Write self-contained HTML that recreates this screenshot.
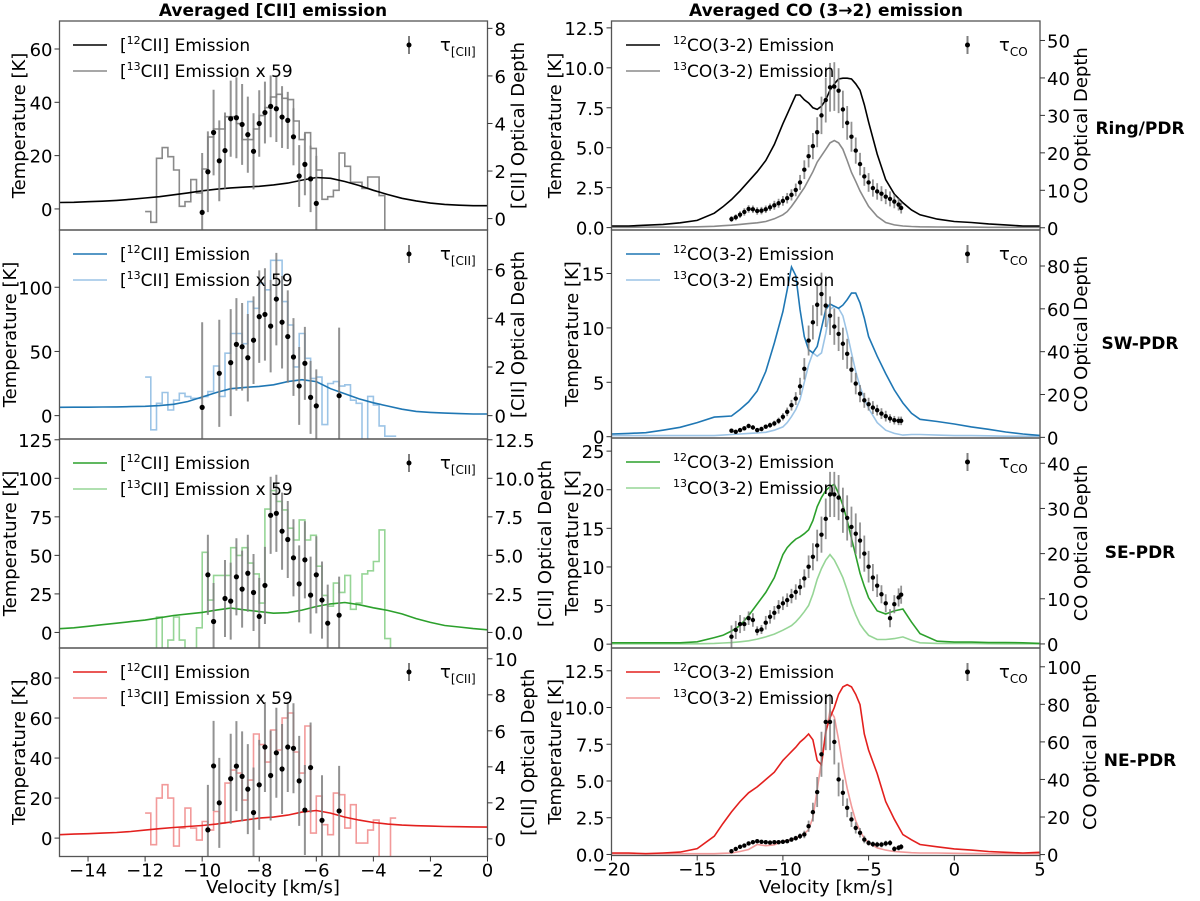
<!DOCTYPE html>
<html><head><meta charset="utf-8">
<style>
html,body{margin:0;padding:0;background:#fff;}
svg{display:block;font-family:"DejaVu Sans","Liberation Sans",sans-serif;}
</style></head>
<body>
<svg id="fig" width="1200" height="901" viewBox="0 0 1200 901" xmlns="http://www.w3.org/2000/svg">
<text x="273" y="16" font-size="17" font-weight="bold" text-anchor="middle">Averaged [CII] emission</text>
<text x="826" y="16" font-size="17" font-weight="bold" text-anchor="middle">Averaged CO (3→2) emission</text>
<text x="1140" y="134" font-size="17" font-weight="bold" text-anchor="middle">Ring/PDR</text>
<text x="1140" y="349" font-size="17" font-weight="bold" text-anchor="middle">SW-PDR</text>
<text x="1140" y="558" font-size="17" font-weight="bold" text-anchor="middle">SE-PDR</text>
<text x="1140" y="766" font-size="17" font-weight="bold" text-anchor="middle">NE-PDR</text>
<text x="273" y="893" font-size="18" text-anchor="middle">Velocity [km/s]</text>
<text x="826" y="893" font-size="18" text-anchor="middle">Velocity [km/s]</text>
</svg>
<script>
// ---------- DATA ----------
const ciiVel = [-15,-14.5,-14,-13.5,-13,-12.5,-12,-11.5,-11,-10.5,-10,-9.5,-9,-8.5,-8,-7.5,-7,-6.5,-6,-5.5,-5,-4.5,-4,-3.5,-3,-2.5,-2,-1.5,-1,-0.5,0];
const ringC12 = [2.4,2.5,2.7,2.9,3.2,3.6,4.1,4.6,5.3,6.0,6.8,7.4,7.9,8.2,8.5,9.0,9.7,10.8,11.8,11.5,10.3,8.8,7.0,5.4,4.0,3.0,2.2,1.7,1.4,1.2,1.2];
const swC12 = [6.5,6.6,6.6,6.7,6.8,7.0,7.3,7.8,8.8,11,14.5,18,21,22,22.8,24,26.5,28,26.5,21,17,13,10,7.5,5,3.3,2.5,2,1.6,1.3,1.3];
const seC12 = [2.4,3,4,5,6,7,8,9.5,11,12,13,14.5,15.8,14.6,13.5,12.5,12.8,14.5,16.8,18.5,19.4,18,16,14.3,12,9,6.5,4.5,3.5,2.5,1.7];
const neC12 = [1.7,2,2.2,2.5,2.8,3.3,4,4.7,5.3,5.8,6.3,7,8,9,10,10.5,11.5,13,13.8,12.5,10.5,9,7.8,7,6.5,6.2,6,5.8,5.7,5.6,5.5];
const c13Start = -12.0;
const c13Width = 0.2;
const ringC13 = [-1,-5,19,23,19.6,14.6,1,2.7,11,6,15,27,30,30,34.6,34.6,32,26,26,30,35,38,42,43,41.5,41,33,26,28.6,22.7,14.6,3.6,4.6,7,21,16,10,10,7.7,12,12,5,-20];
const swC13 = [30,-11,9.6,18,4.4,12,17.4,14.8,13.5,13.5,14.8,18.7,38.7,15,48.6,64,64,56,88.8,83.6,103,98,121,121,88.8,70.6,38,64,44.7,29,30,-7,25,26.5,23,24,12,9.6,-19,15,8.3,-8,-16,-16];
const seC13 = [-20,-20,10,-20,-5,10,-5,-20,-20,3,52,21,37,37,37,55,50,55,45,38,19,80,92,85,79.5,67.6,60,73,60,63,43,24,17,32,26,37,15,19,38,40,46,66.5,-4,-20];
const neC13 = [12.5,-3.3,20,26.7,20,-4,5,15,5,-1,8.3,4,13.3,7.5,27.5,34,32.5,19,29,52,46.7,38,54,44,60,62.5,43,32.5,56,2.5,21,6.7,1.7,22.5,21.7,5,16.7,-2.5,-2.5,4,9,-9.5,-9.5,10];
const ringTauVel = [-10,-9.8,-9.6,-9.4,-9.2,-9,-8.8,-8.6,-8.4,-8.2,-8,-7.8,-7.6,-7.4,-7.2,-7,-6.8,-6.6,-6.4,-6.2,-6];
const ringTau = [0.26,1.97,3.62,2.43,2.86,4.2,4.24,3.96,3.53,2.83,4.0,4.46,4.72,4.62,4.27,4.13,3.44,1.79,2.28,1.67,0.64];
const ringTauErr = [2.5,1.7,1.8,1.7,1.6,1.6,1.7,1.7,1.6,1.6,1.4,1.3,1.3,1.4,1.3,1.2,1.2,1.3,1.3,1.4,2];
const swTauVel = [-10,-9.4,-9,-8.8,-8.6,-8.4,-8.2,-8,-7.8,-7.6,-7.4,-7.2,-7,-6.8,-6.6,-6.4,-6.2,-6,-5.2];
const swTau = [0.34,1.74,2.18,2.93,2.83,2.38,3.1,4.07,4.16,3.68,4.79,3.84,3.25,2.41,1.22,2.15,0.75,0.40,0.82];
const swTauErr = [3.5,2.2,2.2,1.9,1.8,1.8,1.8,1.9,1.9,1.9,1.9,1.9,1.9,1.6,1.6,1.5,1.5,1.5,2.8];
const seTauVel = [-9.8,-9.6,-9.2,-9,-8.8,-8.6,-8.4,-8.2,-8,-7.8,-7.6,-7.4,-7.2,-7,-6.8,-6.6,-6.4,-6.2,-6,-5.8,-5.6,-5.2];
const seTau = [3.74,0.71,2.2,2.03,3.61,2.81,3.84,2.59,1.04,3.05,7.6,7.73,6.57,6.03,4.84,3.15,4.71,2.42,3.74,2.1,0.6,1.12];
const seTauErr = [2.6,2.5,2.5,2.5,2.5,2.5,2.5,2.5,2.5,2.5,2.5,2.5,2.5,2.5,2.5,2.5,2.5,2.5,2.5,2.5,2.5,2.5];
const neTauVel = [-9.8,-9.6,-9.4,-9,-8.8,-8.6,-8.4,-8.2,-8,-7.8,-7.6,-7.4,-7.2,-7,-6.8,-6.6,-6.4,-6.2,-5.8,-5.2];
const neTau = [0.5,4.05,2.0,3.34,4.04,3.47,2.76,1.46,3.0,5.1,3.52,4.78,3.88,5.1,5.03,3.22,1.6,3.96,1.03,1.55];
const neTauErr = [2.5,2.5,2.5,2.5,2.5,2.5,2.5,2.5,2.5,2.5,2.5,2.5,2.5,2.5,2.5,2.5,2.5,2.5,2.5,2.5];

const coVel = [-20,-19,-18,-17,-16,-15,-14,-13.5,-13,-12.5,-12,-11.5,-11,-10.5,-10,-9.75,-9.5,-9.25,-9,-8.75,-8.5,-8.25,-8,-7.75,-7.5,-7.25,-7,-6.75,-6.5,-6.25,-6,-5.75,-5.5,-5.25,-5,-4.5,-4,-3.5,-3,-2.5,-2,-1,0,1,2,3,4,5];
const ringCO12 = [0.1,0.1,0.15,0.2,0.3,0.45,0.9,1.3,1.76,2.3,2.9,3.5,4.2,5.2,6.5,7.1,7.7,8.3,8.3,8.0,7.8,7.5,7.4,7.6,8.0,8.6,9.0,9.3,9.35,9.35,9.3,9.0,8.6,7.7,6.6,4.6,3.0,2.1,1.55,1.1,0.8,0.53,0.38,0.32,0.23,0.17,0.1,0.1];
const ringCO13 = [0.02,0.02,0.03,0.03,0.04,0.05,0.08,0.12,0.15,0.2,0.25,0.3,0.38,0.55,0.8,1.0,1.33,1.7,2.1,2.5,3.0,3.5,4.1,4.5,4.9,5.3,5.45,5.3,4.9,4.2,3.45,2.9,2.3,1.8,1.33,0.7,0.32,0.17,0.1,0.07,0.05,0.04,0.03,0.03,0.02,0.02,0.02,0.02];
const swCO12 = [0.25,0.3,0.37,0.6,0.86,1.3,1.8,1.85,1.9,2.5,3.2,4.2,6.0,8.6,11.5,13.5,15.6,14.8,11.7,9.2,8.0,7.7,8.3,10,11.7,12.2,12.0,11.8,12.1,12.6,13.2,13.2,12.3,10.9,9.2,7.4,5.8,4.3,3.1,2.15,1.6,1.4,1.17,0.9,0.68,0.43,0.25,0.12];
const swCO13 = [0.1,0.1,0.1,0.1,0.1,0.1,0.1,0.15,0.2,0.25,0.3,0.35,0.4,0.6,0.9,1.3,1.85,2.5,3.4,5.0,6.6,7.7,7.4,7.7,9.5,11.7,12.0,11.8,11.1,9.5,7.7,6.0,4.6,3.5,2.6,1.3,0.6,0.3,0.15,0.2,0.2,0.15,0.1,0.1,0.08,0.05,0.05,0.05];
const seCO12 = [0.17,0.17,0.17,0.17,0.17,0.3,0.85,1.15,1.7,2.4,3.7,5.2,6.7,8.6,11.6,12.5,13.1,13.6,13.9,14.3,14.8,16,17.8,19,19.9,20.4,20.7,19.5,18,16,13.7,11.5,9.2,7.5,6.0,4.3,3.9,4.3,4.55,2.85,1.36,0.38,0.26,0.26,0.2,0.2,0.17,0.1];
const seCO13 = [0.05,0.05,0.05,0.05,0.05,0.05,0.1,0.15,0.2,0.3,0.43,0.65,0.94,1.3,1.8,2.1,2.4,2.9,3.5,4.2,5.0,6.5,8.4,9.8,10.9,11.6,10.9,9.8,8.6,7.0,5.2,3.8,2.6,1.8,1.15,0.6,0.6,0.72,0.94,0.5,0.17,0.1,0.08,0.08,0.06,0.05,0.05,0.05];
const neCO12 = [0.1,0.1,0.05,0.1,0.16,0.4,1.24,2.1,2.9,3.6,4.2,4.6,5.1,5.6,6.4,6.7,7.0,7.3,7.65,7.9,8.2,7.8,6.4,6.1,8.4,9.3,10.0,10.9,11.4,11.55,11.4,10.9,10.2,8.2,7.1,5.5,3.6,2.4,1.35,1.0,0.68,0.52,0.38,0.3,0.2,0.15,0.1,0.15];
const neCO13 = [0.05,0.05,0.05,0.05,0.05,0.05,0.05,0.08,0.1,0.2,0.34,0.68,0.6,0.65,0.9,0.95,1.0,1.1,1.24,1.4,1.7,2.5,4.4,6.4,8.2,9.8,9.35,7.8,6.0,4.5,3.3,2.3,1.6,1.1,0.8,0.45,0.3,0.2,0.16,0.12,0.1,0.1,0.08,0.06,0.05,0.05,0.05,0.05];
const coTauVel = [-13,-12.75,-12.5,-12.25,-12,-11.75,-11.5,-11.25,-11,-10.75,-10.5,-10.25,-10,-9.75,-9.5,-9.25,-9,-8.75,-8.5,-8.25,-8,-7.75,-7.5,-7.25,-7,-6.75,-6.5,-6.25,-6,-5.75,-5.5,-5.25,-5,-4.75,-4.5,-4.25,-4,-3.75,-3.5,-3.25,-3.1];
const ringCOTau = [2.33,2.78,3.49,4.21,5.02,4.93,4.48,4.57,4.93,5.47,6.0,6.54,7.17,7.89,8.78,10.1,12.1,15.5,19.1,21.8,25.5,30.0,34.1,37.5,37.7,36.6,31.6,28.0,24.3,20.6,17.0,13.7,12.1,10.6,9.7,9.1,8.3,7.7,7.0,6.2,5.3];
const ringCOTauErr = [0.8,0.8,0.9,1,1,1,1,1,1,1,1.2,1.2,1.3,1.4,1.5,1.7,2,2.5,3,3.5,4,5,6,6.5,6.5,6,5,4.5,4,3.5,3,2.5,2.5,2.3,2.2,2,2,2,1.8,1.6,1.5];
const swCOTau = [3.1,2.6,3.4,4.2,5.3,4.6,3.4,3.9,5.0,5.7,6.5,7.7,9.6,11.9,15.0,18.1,23.8,32.0,45.2,53.7,61.9,66.9,61.5,56.8,51.7,48.3,43.7,39.0,31.6,25.1,20.4,17.3,15.5,13.9,12.7,11.1,9.9,8.8,8.0,7.7,7.7];
const swCOTauErr = [1,1,1,1,1,1,1,1,1,1.2,1.3,1.5,1.7,2,2.5,3,4,5,7,8,10,10,10,9,8.5,8,7.5,7,6,5,4,3.5,3,3,2.5,2.5,2.5,2,2,2,2];
const seCOTau = [1.6,3.1,4.4,4.4,5.7,5.3,2.9,3.2,4.7,6.0,6.9,8.2,9.0,9.7,10.6,11.5,12.6,14.5,17.1,19.3,21.8,24.2,27.7,33.1,33.1,32.4,29.6,27.9,25.9,24.4,22.9,20.0,17.1,14.7,12.9,11.0,9.0,5.7,8.8,10.3,10.9];
const seCOTauErr = [2.5,2,2,1.5,1.5,1.5,1,1,1.5,1.5,1.5,1.5,1.5,1.5,1.6,1.7,1.8,2,2.5,3,3.5,4,4.5,5,5,5,5,5,4.5,4.5,4,4,3.5,3,2.5,2,2,2,2,2,2];
const neCOTau = [1.8,3.0,4.1,4.8,5.9,6.6,7.1,6.8,6.6,6.4,6.6,6.6,6.8,7.1,8.0,8.7,9.8,10.7,15.1,22.6,33.3,53.4,70.6,70.6,60.0,40.0,32.9,24.9,18.7,14.2,11.6,8.0,6.2,5.5,5.3,5.3,5.9,6.2,3.0,3.6,4.1];
const neCOTauErr = [1,1,1,1,1,1,1,1,1,1,1,1,1,1,1.2,1.3,1.5,2,3,5,8,12,15,15,12,9,7,5,4,3,2.5,2,1.5,1.5,1.5,1.5,1.5,1.5,1.5,1.5,1.5];

const ciiXTicks = [-14,-12,-10,-8,-6,-4,-2,0];
const coXTicks = [-20,-15,-10,-5,0,5];

// ---------- DRAWING ----------
const NS = 'http://www.w3.org/2000/svg';
const svg = document.getElementById('fig');
const TICK_FS = 18;
function mk(tag, parent, attrs) {
  const e = document.createElementNS(NS, tag);
  for (const k in attrs) e.setAttribute(k, attrs[k]);
  parent.appendChild(e);
  return e;
}
function fmt(v, dec) { const s = v.toFixed(dec); return s.replace('-', '\u2212'); }

const ciiColors = [['#000000','#8a8a8a'],['#1f77b4','#9cc4e6'],['#2ca02c','#96d596'],['#e3201e','#f29a9a']];
const rowNames = ['ring','sw','se','ne'];

const leftPanels = [
  {top:21,bot:230,yl:[-7.9,70.5],ylt:[0,20,40,60],yld:0,yr:[-0.48,8.31],yrt:[0,2,4,6,8],yrd:0,tlx:19,rlx:518,c12:ringC12,c13:ringC13,tv:ringTauVel,t:ringTau,te:ringTauErr},
  {top:230,bot:439,yl:[-18.2,144.6],ylt:[0,50,100],yld:0,yr:[-0.96,7.63],yrt:[0,2,4,6],yrd:0,tlx:10,rlx:518,c12:swC12,c13:swC13,tv:swTauVel,t:swTau,te:swTauErr},
  {top:439,bot:648,yl:[-10.1,125.5],ylt:[0,25,50,75,100,125],yld:0,yr:[-1.01,12.55],yrt:[0,2.5,5,7.5,10,12.5],yrd:1,tlx:10,rlx:545,c12:seC12,c13:seC13,tv:seTauVel,t:seTau,te:seTauErr},
  {top:648,bot:856.5,yl:[-9.2,95],ylt:[0,20,40,60,80],yld:0,yr:[-0.98,10.6],yrt:[0,2,4,6,8,10],yrd:0,tlx:19,rlx:528,c12:neC12,c13:neC13,tv:neTauVel,t:neTau,te:neTauErr}
];
const rightPanels = [
  {top:21,bot:230,yl:[-0.15,12.93],ylt:[0,2.5,5,7.5,10,12.5],yld:1,yr:[-0.6,55.2],yrt:[0,10,20,30,40,50],yrd:0,tlx:555,rlx:1081,c12:ringCO12,c13:ringCO13,t:ringCOTau,te:ringCOTauErr},
  {top:230,bot:438,yl:[-0.12,19.0],ylt:[0,5,10,15],yld:0,yr:[-0.3,96.8],yrt:[0,20,40,60,80],yrd:0,tlx:572,rlx:1081,c12:swCO12,c13:swCO13,t:swCOTau,te:swCOTauErr},
  {top:438,bot:648,yl:[-0.5,26.7],ylt:[0,5,10,15,20,25],yld:0,yr:[-0.9,45.6],yrt:[0,10,20,30,40],yrd:0,tlx:572,rlx:1081,c12:seCO12,c13:seCO13,t:seCOTau,te:seCOTauErr},
  {top:648,bot:855.5,yl:[-0.07,14.05],ylt:[0,2.5,5,7.5,10,12.5],yld:1,yr:[-0.5,110],yrt:[0,20,40,60,80,100],yrd:0,tlx:555,rlx:1090,c12:neCO12,c13:neCO13,t:neCOTau,te:neCOTauErr}
];

function drawPanel(p, i, col) {
  const isCii = col === 'cii';
  const x0 = isCii ? 59.5 : 611.5, x1 = isCii ? 487.5 : 1040;
  const vmin = isCii ? -15 : -20, vmax = isCii ? 0 : 5;
  const sx = v => x0 + (v - vmin) / (vmax - vmin) * (x1 - x0);
  const syL = t => p.bot - (t - p.yl[0]) / (p.yl[1] - p.yl[0]) * (p.bot - p.top);
  const syR = t => p.bot - (t - p.yr[0]) / (p.yr[1] - p.yr[0]) * (p.bot - p.top);
  const g = mk('g', svg, {});
  
  
  const cid = 'clip-' + col + i;
  const cp = mk('clipPath', g, {id: cid});
  mk('rect', cp, {x:x0, y:p.top, width:x1-x0, height:p.bot-p.top});
  const plot = mk('g', g, {'clip-path':'url(#' + cid + ')'});
  const [c1, c2] = ciiColors[i];

  let d = '';
  if (isCii) {
    for (let k = 0; k < p.c13.length; k++) {
      const xa = sx(c13Start + k * c13Width), xb = sx(c13Start + (k + 1) * c13Width), y = syL(p.c13[k]);
      d += (k === 0 ? 'M' : 'L') + xa.toFixed(1) + ',' + y.toFixed(1) + 'H' + xb.toFixed(1);
    }
  } else {
    coVel.forEach((v, k) => { d += (k ? 'L' : 'M') + sx(v).toFixed(1) + ',' + syL(p.c13[k]).toFixed(1); });
  }
  const l13 = mk('path', plot, {d:d, fill:'none', stroke:c2, 'stroke-width':1.6});
  
  

  d = '';
  const vel = isCii ? ciiVel : coVel;
  vel.forEach((v, k) => { d += (k ? 'L' : 'M') + sx(v).toFixed(1) + ',' + syL(p.c12[k]).toFixed(1); });
  const l12 = mk('path', plot, {d:d, fill:'none', stroke:c1, 'stroke-width':1.6});
  
  

  const tv = isCii ? p.tv : coTauVel;
  tv.forEach((v, k) => {
    const x = sx(v);
    const eb = mk('line', plot, {x1:x, x2:x, y1:syR(p.t[k] - p.te[k]), y2:syR(p.t[k] + p.te[k]), stroke:'#7f7f7f', 'stroke-width':isCii ? 2 : 1.8, 'stroke-opacity':0.85});
    
    
  });
  tv.forEach((v, k) => {
    const pt = mk('circle', plot, {cx:sx(v), cy:syR(p.t[k]), r:isCii ? 2.6 : 2.2, fill:'#000'});
    
    
  });

  const fr = mk('rect', g, {x:x0, y:p.top, width:x1-x0, height:p.bot-p.top, fill:'none', stroke:'#555', 'stroke-width':1.3});
  
  

  p.ylt.forEach(t => {
    const y = syL(t);
    mk('line', g, {x1:x0-5, x2:x0, y1:y, y2:y, stroke:'#333', 'stroke-width':1});
    const tl = mk('text', g, {x:x0-7, y:y+7, 'font-size':TICK_FS, 'text-anchor':'end'});
    tl.textContent = fmt(t, p.yld);
    
    
  });
  p.yrt.forEach(t => {
    const y = syR(t);
    mk('line', g, {x1:x1, x2:x1+5, y1:y, y2:y, stroke:'#333', 'stroke-width':1});
    const tl = mk('text', g, {x:x1+7, y:y+7, 'font-size':TICK_FS});
    tl.textContent = fmt(t, p.yrd);
    
    
  });
  const cy = (p.top + p.bot) / 2;
  const yt = mk('text', g, {x:p.tlx, y:cy, 'font-size':18, 'text-anchor':'middle', transform:'rotate(-90 ' + p.tlx + ' ' + cy + ')', dy:6});
  yt.textContent = 'Temperature [K]';
  
  
  const rt = mk('text', g, {x:p.rlx, y:cy, 'font-size':18, 'text-anchor':'middle', transform:'rotate(-90 ' + p.rlx + ' ' + cy + ')', dy:6});
  rt.textContent = isCii ? '[CII] Optical Depth' : 'CO Optical Depth';
  
  

  if (i === 3) {
    (isCii ? ciiXTicks : coXTicks).forEach(v => {
      const x = sx(v);
      mk('line', g, {x1:x, x2:x, y1:p.bot, y2:p.bot+5, stroke:'#333', 'stroke-width':1});
      const xl = mk('text', g, {x:x, y:p.bot+20, 'font-size':TICK_FS, 'text-anchor':'middle'});
      xl.textContent = fmt(v, 0);
      
      
    });
  }

  const lx0 = isCii ? 73 : 626, lx1 = isCii ? 107 : 660, tx = isCii ? 120 : 673;
  const ly1 = p.top + 24, ly2 = p.top + 50;
  const lg = mk('g', g, {});
  
  
  mk('line', lg, {x1:lx0, x2:lx1, y1:ly1, y2:ly1, stroke:c1, 'stroke-width':1.6});
  mk('line', lg, {x1:lx0, x2:lx1, y1:ly2, y2:ly2, stroke:c2, 'stroke-width':1.6});
  const t1 = mk('text', lg, {x:tx, y:ly1+6, 'font-size':17});
  
  
  const t2 = mk('text', lg, {x:tx, y:ly2+6, 'font-size':17});
  
  
  if (isCii) {
    t1.innerHTML = '[<tspan font-size="11" dy="-7">12</tspan><tspan dy="7">CII] Emission</tspan>';
    t2.innerHTML = '[<tspan font-size="11" dy="-7">13</tspan><tspan dy="7">CII] Emission x 59</tspan>';
  } else {
    t1.innerHTML = '<tspan font-size="11" dy="-7">12</tspan><tspan dy="7">CO(3-2) Emission</tspan>';
    t2.innerHTML = '<tspan font-size="11" dy="-7">13</tspan><tspan dy="7">CO(3-2) Emission</tspan>';
  }
  const mx = isCii ? 409 : 967.5;
  mk('line', lg, {x1:mx, x2:mx, y1:ly1-9, y2:ly1+9, stroke:'#7f7f7f', 'stroke-width':2});
  mk('circle', lg, {cx:mx, cy:ly1, r:2.5, fill:'#000'});
  const tt = mk('text', lg, {x:isCii ? 440 : 999, y:ly1+6, 'font-size':18});
  
  
  tt.innerHTML = isCii ? 'τ<tspan font-size="12" dy="5">[CII]</tspan>' : 'τ<tspan font-size="12" dy="5">CO</tspan>';
}

leftPanels.forEach((p, i) => drawPanel(p, i, 'cii'));
rightPanels.forEach((p, i) => drawPanel(p, i, 'co'));
</script>
</body></html>
